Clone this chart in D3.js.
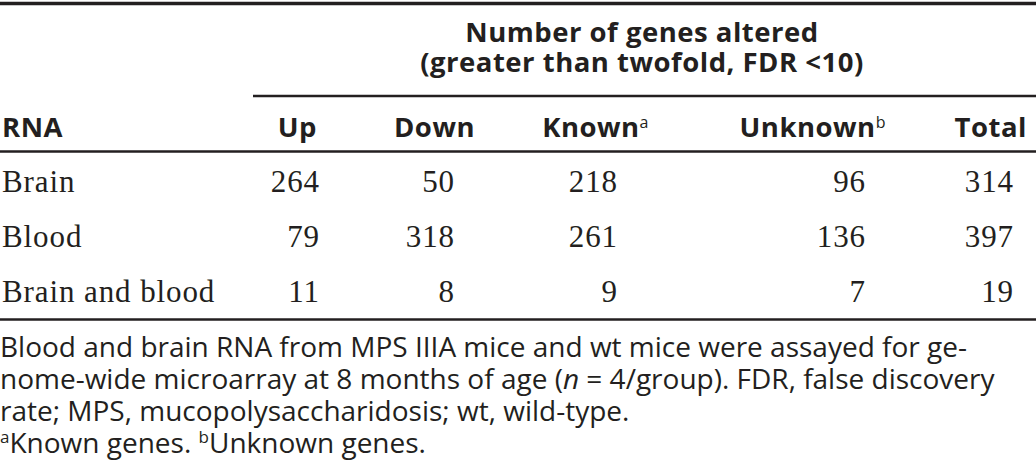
<!DOCTYPE html>
<html>
<head>
<meta charset="utf-8">
<script src="https://cdn.jsdelivr.net/npm/d3@7/dist/d3.min.js"></script>
<style>
  html, body { margin: 0; padding: 0; background: #fff; }
  svg { display: block; }
</style>
</head>
<body>
<svg id="chart" width="1036" height="470"></svg>
<script>
// ---- data ----
const spanTitle = ["Number of genes altered", "(greater than twofold, FDR <10)"];
const rowHeader = "RNA";
const columns = ["Up", "Down", "Known", "Unknown", "Total"];
const columnSup = ["", "", "a", "b", ""];
const rows = ["Brain", "Blood", "Brain and blood"];
const up = [264, 79, 11];
const down = [50, 318, 8];
const known = [218, 261, 9];
const unknown = [96, 136, 7];
const total = [314, 397, 19];
const footLines = [
  "Blood and brain RNA from MPS IIIA mice and wt mice were assayed for ge-",
  "nome-wide microarray at 8 months of age (|n| = 4/group). FDR, false discovery",
  "rate; MPS, mucopolysaccharidosis; wt, wild-type."
];
const footNotes = [["a", "Known genes. "], ["b", "Unknown genes."]];

// ---- layout ----
const W = 1036, H = 470;
const ink = "#231f20";
const sans = "'Open Sans', sans-serif";
const serif = "'Liberation Serif', serif";
const svg = d3.select("#chart");

const series = [up, down, known, unknown, total];

// column right edges for header labels and numbers
const headX = d3.scaleOrdinal().domain(columns).range([317, 475, 649, 886, 1027]);
const numX = d3.scaleOrdinal().domain(columns).range([320, 455, 618, 866, 1014]);
const rowY = d3.scalePoint().domain(rows).range([192, 302]);

// rules
const rule = (x1, x2, y, w) => svg.append("line")
  .attr("x1", x1).attr("x2", x2).attr("y1", y).attr("y2", y)
  .attr("stroke", ink).attr("stroke-width", w);
rule(0, W, 3.5, 3.5);
rule(253, W, 96, 2.5);
rule(0, W, 151.5, 2.5);
rule(0, W, 319.5, 2.5);

const hSize = 27.5;

// spanning title
svg.append("g").selectAll("text").data(spanTitle).join("text")
  .attr("x", 642).attr("y", (d, i) => 42 + i * 30)
  .attr("text-anchor", "middle")
  .attr("font-family", sans).attr("font-weight", 700).attr("font-size", hSize)
  .attr("letter-spacing", 0.5)
  .attr("fill", ink).text(d => d);

// header row
svg.append("text").attr("x", 2).attr("y", 137)
  .attr("font-family", sans).attr("font-weight", 700).attr("font-size", hSize)
  .attr("letter-spacing", 0.5)
  .attr("fill", ink).text(rowHeader);

const hdr = svg.append("g").selectAll("text").data(columns).join("text")
  .attr("x", d => headX(d)).attr("y", 137)
  .attr("text-anchor", "end")
  .attr("font-family", sans).attr("font-weight", 700).attr("font-size", hSize)
  .attr("letter-spacing", 0.5)
  .attr("fill", ink);
hdr.append("tspan").text(d => d);
hdr.append("tspan")
  .attr("font-size", 16).attr("font-weight", 400).attr("dy", -9)
  .text((d, i) => columnSup[i]);

// row labels
svg.append("g").selectAll("text").data(rows).join("text")
  .attr("x", 2).attr("y", d => rowY(d))
  .attr("font-family", serif).attr("font-size", 31)
  .attr("letter-spacing", 0.9)
  .attr("fill", ink).text(d => d);

// numbers
const cells = [];
columns.forEach((c, ci) => rows.forEach((r, ri) => cells.push({c, r, v: series[ci][ri]})));
svg.append("g").selectAll("text").data(cells).join("text")
  .attr("x", d => numX(d.c)).attr("y", d => rowY(d.r))
  .attr("text-anchor", "end")
  .attr("font-family", serif).attr("font-size", 31)
  .attr("letter-spacing", 0.9)
  .attr("fill", ink).text(d => d.v);

// footnote
const foot = svg.append("g")
  .attr("font-family", sans).attr("font-size", 28).attr("fill", ink);
footLines.forEach((line, i) => {
  const t = foot.append("text").attr("x", 0).attr("y", 357 + i * 32);
  line.split("|").forEach((part, k) => {
    const s = t.append("tspan").text(part);
    if (k % 2 === 1) s.attr("font-style", "italic");
  });
});
const fn = foot.append("text").attr("x", 0).attr("y", 357 + 3 * 32);
footNotes.forEach(([sup, txt]) => {
  fn.append("tspan").attr("font-size", 17).attr("dy", -10).text(sup);
  fn.append("tspan").attr("dy", 10).text(txt);
});
</script>
</body>
</html>
